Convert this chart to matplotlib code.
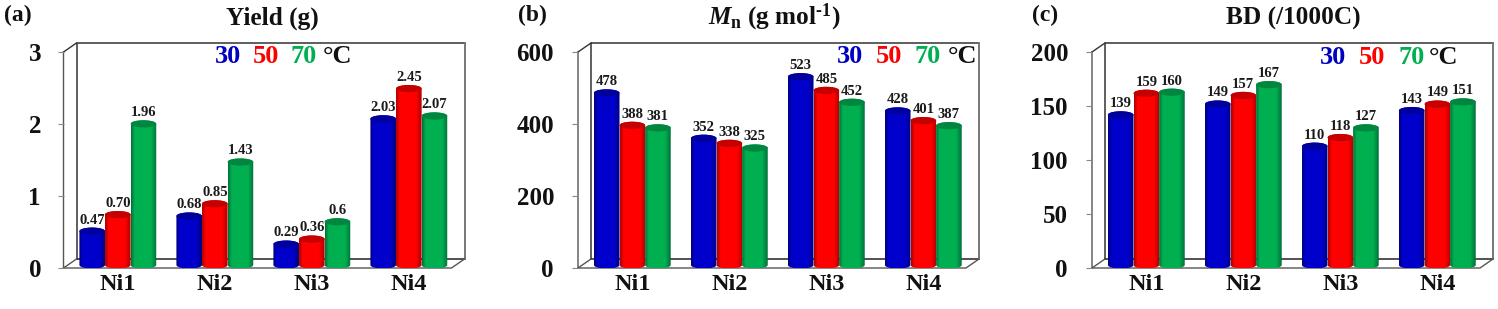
#!/usr/bin/env python3
"""Three pseudo-3D cylinder bar panels: yield, Mn and BD for Ni1-Ni4."""
import matplotlib

matplotlib.use("Agg")
import matplotlib.pyplot as plt
import numpy as np
from matplotlib.patches import Ellipse, Polygon

plt.rcParams["font.family"] = ["Liberation Serif", "DejaVu Serif"]
plt.rcParams["font.weight"] = "bold"
plt.rcParams["mathtext.fontset"] = "custom"
plt.rcParams["mathtext.rm"] = "Liberation Serif:bold"
plt.rcParams["mathtext.it"] = "Liberation Serif:italic:bold"
plt.rcParams["mathtext.bf"] = "Liberation Serif:bold"

W, H = 1498, 309

catalysts = ["Ni1", "Ni2", "Ni3", "Ni4"]
temps = ["30", "50", "70"]

yield_30 = [0.47, 0.68, 0.29, 2.03]
yield_50 = [0.70, 0.85, 0.36, 2.45]
yield_70 = [1.96, 1.43, 0.6, 2.07]
yield_labels = [
    ["0.47", "0.68", "0.29", "2.03"],
    ["0.70", "0.85", "0.36", "2.45"],
    ["1.96", "1.43", "0.6", "2.07"],
]
yield_ticks = [0, 1, 2, 3]

mn_30 = [478, 352, 523, 428]
mn_50 = [388, 338, 485, 401]
mn_70 = [381, 325, 452, 387]
mn_ticks = [0, 200, 400, 600]

bd_30 = [139, 149, 110, 143]
bd_50 = [159, 157, 118, 149]
bd_70 = [160, 167, 127, 151]
bd_ticks = [0, 50, 100, 150, 200]

# (edge, mid, cap) for each temperature
COLORS = [
    ("#00007c", "#0000cc", "#00009c"),
    ("#ac0000", "#ff0000", "#c40000"),
    ("#00703a", "#00b050", "#00863e"),
]
LEGEND_COLORS = ["#0000c0", "#ff0000", "#00b050"]

BAR_W = 0.264
CAP_PX = 3.6
BASE_PX = 3.0
DEPTH_X, DEPTH_Y = 13, 9
Y_TOP, Y_BOT = 52, 268


def px_x(x):
    return x / W


def px_y(y):
    return 1 - y / H


def cylinder(ax, x0, value, colors, ymax, z):
    """One cylinder from gradient image clipped to its outline."""
    edge, mid, cap = colors
    unit = ymax / (Y_BOT - Y_TOP)
    base = BASE_PX * unit
    top = value + base
    ry = CAP_PX * unit
    rx = BAR_W / 2
    cx = x0 + rx

    t = np.linspace(0, np.pi, 40)
    low_x = cx - rx * np.cos(t)
    low_y = base - ry * np.sin(t)
    up_x = cx + rx * np.cos(t)
    up_y = top + ry * np.sin(t)
    outline = np.column_stack([np.r_[low_x, up_x], np.r_[low_y, up_y]])

    cmap = matplotlib.colors.LinearSegmentedColormap.from_list(
        "cyl", [(0, edge), (0.14, mid), (0.78, mid), (1, edge)]
    )
    grad = np.linspace(0, 1, 64)[None, :]
    img = ax.imshow(
        grad,
        cmap=cmap,
        extent=[x0, x0 + BAR_W, base - ry, top + ry],
        aspect="auto",
        zorder=z,
    )
    patch = Polygon(outline, closed=True, transform=ax.transData, fc="none", ec="none")
    ax.add_patch(patch)
    img.set_clip_path(patch)
    ax.add_patch(Ellipse((cx, top), BAR_W, 2 * ry, fc=cap, ec="none", zorder=z + 0.1))


def panel(left, series, labels, ticks, title, title_xy, tag, tag_x, legend_x, legend_y, lab_right):
    ax = fig.add_axes([px_x(left), px_y(Y_BOT), 388 / W, (Y_BOT - Y_TOP) / H])
    ymax = ticks[-1]
    for s in ax.spines.values():
        s.set_visible(False)
    ax.patch.set_visible(False)

    # walls of the box, in axes fractions
    dx, dy = DEPTH_X / 388, DEPTH_Y / (Y_BOT - Y_TOP)
    line_kw = dict(transform=ax.transAxes, clip_on=False, zorder=1)
    ax.plot([dx, dx, 1 + dx], [dy, 1 + dy, 1 + dy], color="#333333", lw=1.1, **line_kw)
    ax.plot([dx, 1 + dx], [dy, dy], color="#222222", lw=1.1, **line_kw)
    ax.plot([1 + dx, 1 + dx], [dy, 1 + dy], color="#777777", lw=1.4, **line_kw)
    ax.plot([0, 0, dx], [1, 0, dy], color="#555555", lw=1.0, **line_kw)
    ax.plot([0, dx], [1, 1 + dy], color="#333333", lw=1.0, **line_kw)
    ax.plot([0, 1, 1 + dx], [0, 0, dy], color="#555555", lw=1.0, **line_kw)

    for j, vals in enumerate(series):
        for i, v in enumerate(vals):
            x0 = i + 0.56 + (j - 1.5) * BAR_W
            cylinder(ax, x0, v, COLORS[j], ymax, 2 + j)
            ax.annotate(labels[j][i], (x0 + BAR_W / 2, v), xytext=(0, 5.5),
                        textcoords="offset points", ha="center", va="bottom",
                        fontsize=10.5, color="#1a1a1a", zorder=9)
    ax.set_xlim(0, 4)
    ax.set_ylim(0, ymax)

    ax.set_xticks([i + 0.56 for i in range(4)])
    ax.set_xticklabels(catalysts, fontsize=17.5, color="#111111")
    ax.tick_params(axis="x", length=0, pad=4.5)
    ax.set_yticks(ticks)
    ax.set_yticklabels([str(t) for t in ticks], fontsize=18, color="#111111")
    ax.tick_params(axis="y", length=4.5, width=0.8, color="#888888",
                   pad=(left - lab_right) * 0.72 - 4.5)

    fig.text(px_x(title_xy[0]), px_y(title_xy[1]), title, fontsize=18.2,
             ha="center", va="center", color="#111111")
    fig.text(px_x(tag_x), px_y(15), tag, fontsize=17, ha="left", va="center", color="#111111")
    for k, t in enumerate(temps):
        fig.text(px_x(legend_x[k]), px_y(legend_y), t, fontsize=19, ha="center",
                 va="center", color=LEGEND_COLORS[k])
    fig.text(px_x(legend_x[3]), px_y(legend_y), "\u00b0C", fontsize=19, ha="center",
             va="center", color="#111111")


fig = plt.figure(figsize=(W / 100, H / 100), dpi=100, facecolor="white")

panel(63.5, [yield_30, yield_50, yield_70], yield_labels, yield_ticks,
      "Yield (g)", (272, 18), "(a)", 4, [228, 266, 304, 337], 56, 41)

mn_vals = [mn_30, mn_50, mn_70]
panel(578, mn_vals, [[str(v) for v in s] for s in mn_vals], mn_ticks,
      r"$\mathit{M}_{\mathrm{n}}$ (g mol$^{\text{-1}}$)", (774, 17), "(b)", 518,
      [850, 889, 928, 962], 56, 554)

bd_vals = [bd_30, bd_50, bd_70]
panel(1092, bd_vals, [[str(v) for v in s] for s in bd_vals], bd_ticks,
      "BD (/1000C)", (1293, 18), "(c)", 1032, [1333, 1372, 1412, 1444], 58, 1068)

fig.savefig("out.png", dpi=100)
